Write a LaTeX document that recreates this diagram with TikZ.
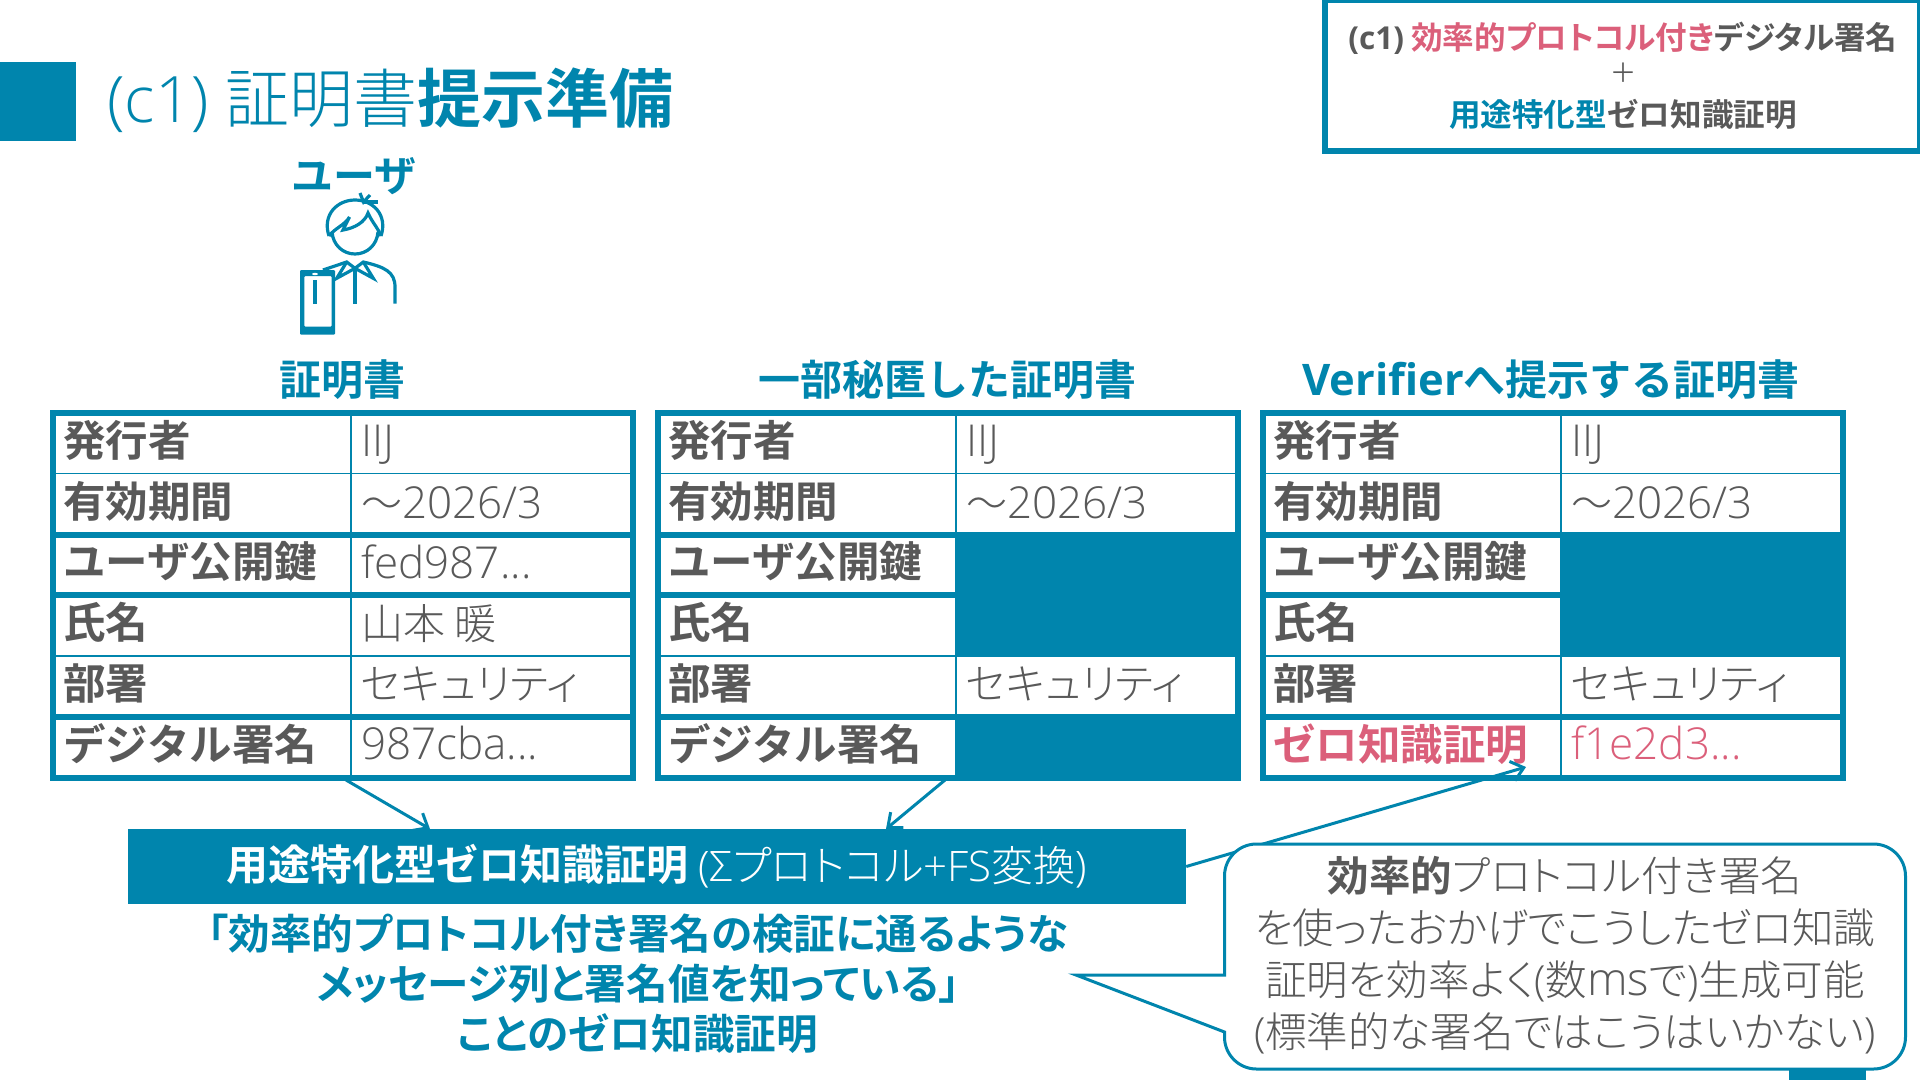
\documentclass[tikz,border=0pt]{standalone}
\usepackage{fontspec}
\setmainfont{Noto Sans CJK JP Light}[BoldFont={Noto Sans CJK JP Bold},RawFeature=+palt]
\newfontfamily\fixfont{Noto Sans CJK JP Light}[BoldFont={Noto Sans CJK JP Bold}]
\newfontfamily\latfont{Open Sans Light}[BoldFont={Open Sans Bold}]
\usetikzlibrary{arrows.meta}
\definecolor{iijblue}{HTML}{0085AD}
\definecolor{iijpink}{HTML}{DB5F7A}
\definecolor{iijgrey}{HTML}{595959}
\newcommand{\ltn}[1]{{\latfont #1}}
\newcommand{\wave}{{\fixfont\fontsize{41}{50}\selectfont 〜}}
\tikzset{
  tborder/.style={draw=iijblue,line width=6pt},
  tthick/.style={draw=iijblue,line width=6pt},
  tthin/.style={draw=iijblue,line width=1.6pt},
  tlabel/.style={anchor=base west,inner sep=0pt,text=iijgrey,font=\fixfont\fontsize{42.5}{50}\selectfont\bfseries},
  tvalue/.style={anchor=base west,inner sep=0pt,text=iijgrey,font=\fontsize{44}{50}\selectfont},
  tvaluejp/.style={anchor=base west,inner sep=0pt,text=iijgrey,font=\fontsize{42}{50}\selectfont},
  thead/.style={anchor=base,inner sep=0pt,text=iijblue,font=\fixfont\fontsize{42}{50}\selectfont\bfseries},
  iconline/.style={draw=iijblue,line width=3.2pt},
  flowarrow/.style={draw=iijblue,line width=3pt,-{Straight Barb[length=12pt,width=20pt]}},
}
\begin{document}
\begin{tikzpicture}[x=1pt,y=-1pt]
\useasboundingbox (0,0) rectangle (1920,1080);
\fill [white] (0,0) rectangle (1920,1080);
% title
\fill [iijblue] (0,62) rectangle (76,141);
\node (title) at (107,122) [anchor=base west,inner sep=0pt,text=iijblue,font=\fixfont\fontsize{64}{70}\selectfont] {\ltn{(c1)}\hspace{2pt} 証明書\textbf{提示準備}};
% corner box
\draw [iijblue,line width=6pt] (1325,0) rectangle (1920,151);
\node (method) at (1623,75.5) [inner sep=0pt,align=center,text=iijgrey,font=\fontsize{31.6}{38.5}\selectfont\bfseries] {\ltn{(c1)} \textcolor{iijpink}{効率的プロトコル付き}デジタル署名\\{\mdseries\latfont\fontsize{42}{38.5}\selectfont +}\\\textcolor{iijblue}{用途特化型}ゼロ知識証明};
% user
\node (user) at (354,191) [thead] {ユーザ};
\draw [iconline] (329,236) .. controls (322,215) and (337,200) .. (355,200) .. controls (373,200) and (388,215) .. (381,236);
\draw [iconline] (332,232) .. controls (333,245) and (343,254) .. (355,254) .. controls (367,254) and (377,245) .. (378,232);
\draw [iconline] (329,236) .. controls (335,228) and (345,225) .. (349.5,217) -- (343,230) .. controls (355,228) and (365,222) .. (368,213) .. controls (372,222) and (378,228) .. (381,236);
\draw [iconline] (360,193) -- (363.5,202) -- (370,195);
\draw [iconline] (363.5,202) -- (378,202);
\draw [iconline] (323,270) -- (346.7,262) -- (355,268.3) -- (363.3,262) .. controls (385,267) and (395,272) .. (395,287) -- (395,303.5);
\draw [iconline] (346.7,262) -- (336.7,278.3) -- (355,268.3) -- (373.3,278.3) -- (363.3,262);
\draw [iconline] (355,268.3) -- (355,303.5);
\draw [iconline] (315,280) -- (315,303.5);
\fill [iijblue,even odd rule,rounded corners=1pt] (300,270) rectangle (335,334.5) (304.3,276) rectangle (331.7,326.7);
\fill [white] (315,274) ellipse (3 and 1.2);
% table 1
\node (headA) at (342,395) [thead] {証明書};
\draw [tthin] (351,413) -- (351,778);
\draw [tthin] (52.5,473.5) -- (632.5,473.5);
\draw [tthin] (52.5,656) -- (632.5,656);
\draw [tthick] (52.5,534.5) -- (632.5,534.5);
\draw [tthick] (52.5,595) -- (632.5,595);
\draw [tthick] (52.5,716.5) -- (632.5,716.5);
\draw [tborder] (52.5,413) rectangle (632.5,778);
\node (a1l) at (63,456) [tlabel] {発行者};
\node (a2l) at (63,517) [tlabel] {有効期間};
\node (a3l) at (63,577) [tlabel] {ユーザ公開鍵};
\node (a4l) at (63,638) [tlabel] {氏名};
\node (a5l) at (63,699) [tlabel] {部署};
\node (a6l) at (63,760) [tlabel] {デジタル署名};
\node (a1v) at (361,456) [tvalue] {\ltn{IIJ}};
\node (a2v) at (361,518) [tvalue] {\wave\ltn{2026/3}};
\node (a3v) at (361,578) [tvalue] {\ltn{fed987...}};
\node (a4v) at (361,639) [tvaluejp] {山本 暖};
\node (a5v) at (361,699) [tvaluejp] {セキュリティ};
\node (a6v) at (361,759) [tvalue] {\ltn{987cba...}};
% table 2
\node (headB) at (947,395) [thead] {一部秘匿した証明書};
\fill [iijblue] (956,534.5) rectangle (1237.5,656);
\fill [iijblue] (956,716.5) rectangle (1237.5,778);
\draw [tthin] (956,413) -- (956,778);
\draw [tthin] (657.5,473.5) -- (1237.5,473.5);
\draw [tthin] (657.5,656) -- (1237.5,656);
\draw [tthick] (657.5,534.5) -- (1237.5,534.5);
\draw [tthick] (657.5,595) -- (1237.5,595);
\draw [tthick] (657.5,716.5) -- (1237.5,716.5);
\draw [tborder] (657.5,413) rectangle (1237.5,778);
\node (b1l) at (668,456) [tlabel] {発行者};
\node (b2l) at (668,517) [tlabel] {有効期間};
\node (b3l) at (668,577) [tlabel] {ユーザ公開鍵};
\node (b4l) at (668,638) [tlabel] {氏名};
\node (b5l) at (668,699) [tlabel] {部署};
\node (b6l) at (668,760) [tlabel] {デジタル署名};
\node (b1v) at (966,456) [tvalue] {\ltn{IIJ}};
\node (b2v) at (966,518) [tvalue] {\wave\ltn{2026/3}};
\node (b5v) at (966,699) [tvaluejp] {セキュリティ};
% table 3
\node (headC) at (1551,395) [thead] {{\latfont\fontsize{43.5}{50}\selectfont Verifier}へ提示する証明書};
\fill [iijblue] (1561,534.5) rectangle (1842.5,656);
\draw [tthin] (1561,413) -- (1561,778);
\draw [tthin] (1262.5,473.5) -- (1842.5,473.5);
\draw [tthin] (1262.5,656) -- (1842.5,656);
\draw [tthick] (1262.5,534.5) -- (1842.5,534.5);
\draw [tthick] (1262.5,595) -- (1842.5,595);
\draw [tthick] (1262.5,716.5) -- (1842.5,716.5);
\draw [tborder] (1262.5,413) rectangle (1842.5,778);
\node (c1l) at (1273,456) [tlabel] {発行者};
\node (c2l) at (1273,517) [tlabel] {有効期間};
\node (c3l) at (1273,577) [tlabel] {ユーザ公開鍵};
\node (c4l) at (1273,638) [tlabel] {氏名};
\node (c5l) at (1273,699) [tlabel] {部署};
\node (c6l) at (1273,760) [tlabel,text=iijpink] {ゼロ知識証明};
\node (c1v) at (1571,456) [tvalue] {\ltn{IIJ}};
\node (c2v) at (1571,518) [tvalue] {\wave\ltn{2026/3}};
\node (c5v) at (1571,699) [tvaluejp] {セキュリティ};
\node (c6v) at (1571,759) [tvalue,text=iijpink] {\ltn{f1e2d3...}};
% proof box
\node (zkbox) at (657,866.5) [fill=iijblue,minimum width=1058pt,minimum height=75pt,inner sep=0pt,text=white,font=\fontsize{42}{50}\selectfont] {\raisebox{1pt}{\fixfont\bfseries 用途特化型ゼロ知識証明} \ltn{(Σ}プロトコル\ltn{+FS}変換\ltn{)}};
\node (zktext) at (638,984) [inner sep=0pt,align=center,text=iijblue,font=\fontsize{41.6}{50}\selectfont\bfseries] {「効率的プロトコル付き署名の検証に通るような\\メッセージ列と署名値を知っている」\\ことのゼロ知識証明};
% arrows
\coordinate (fromA) at (346,780);
\coordinate (toA) at (430,829);
\coordinate (fromB) at (945,780);
\coordinate (toB) at (886,829);
\coordinate (toC) at (1526,767);
\draw [flowarrow] (fromA) -- (toA);
\draw [flowarrow] (fromB) -- (toB);
\draw [flowarrow] (zkbox.east) -- (toC);
% callout
\fill [iijblue] (1789,1060) rectangle (1866,1080);
\draw [iijblue,line width=3pt,fill=white] (1224.5,975) -- (1224.5,876) arc[start angle=180,end angle=270,radius=32] -- (1873.5,844) arc[start angle=270,end angle=360,radius=32] -- (1905.5,1037) arc[start angle=0,end angle=90,radius=32] -- (1256.5,1069) arc[start angle=90,end angle=180,radius=32] -- (1224.5,1032) -- (1076,975) -- cycle;
\node (note) at (1565,955) [inner sep=0pt,align=center,text=iijgrey,font=\fontsize{41.5}{52}\selectfont] {\textbf{効率的}プロトコル付き署名\\を使ったおかげでこうしたゼロ知識\\証明を効率よく\ltn{(}数{\latfont\fontsize{46}{52}\selectfont ms}で\ltn{)}生成可能\\\ltn{(}標準的な署名ではこうはいかない\ltn{)}};
\end{tikzpicture}
\end{document}
